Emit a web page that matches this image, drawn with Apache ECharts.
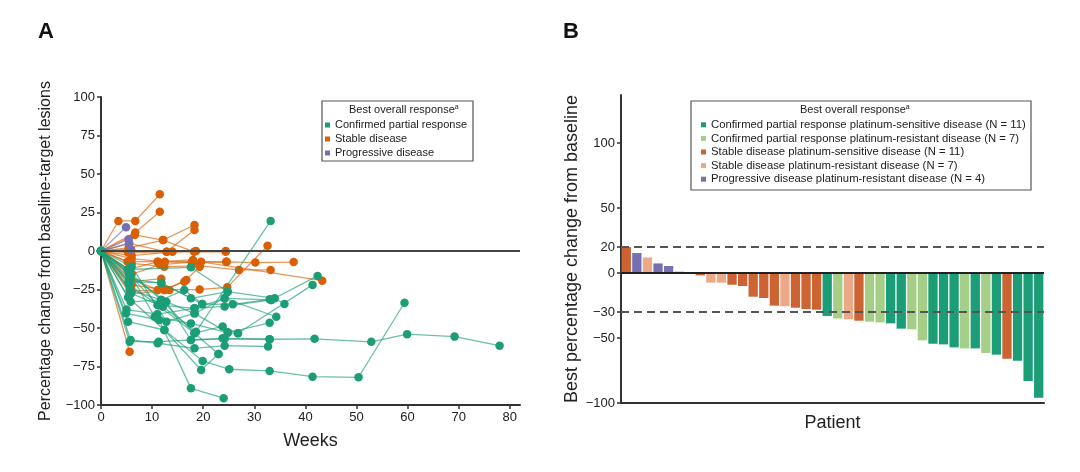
<!DOCTYPE html>
<html>
<head>
<meta charset="utf-8">
<script src="https://cdn.jsdelivr.net/npm/echarts@6/dist/echarts.min.js"></script>
<style>
html,body{margin:0;padding:0;background:#fff;}
#chart{width:1080px;height:472px;}
</style>
</head>
<body>
<div id="chart"></div>
<script>
// ---------- Panel A data: [week, % change] per patient ----------
const greenLines = [
  [[0,0],[5.6,-58.9],[11.3,-58.9],[17.6,-57.8],[24.2,-57],[33,-57.3],[41.8,-57],[52.9,-59],[59.9,-54],[69.2,-55.6],[78,-61.5]],
  [[0,0],[5.8,-57.8],[11.1,-59.9],[18.3,-63.2],[24.2,-61.5],[32.7,-62]],
  [[0,0],[5.3,-45.9],[12.4,-51.3],[19.9,-71.4],[25.1,-76.8],[33,-77.9],[41.4,-81.6],[50.4,-82],[59.4,-33.6]],
  [[0,0],[4.9,-40.5],[11.4,-44.8],[17.6,-89.2],[24,-95.6]],
  [[0,0],[5.6,-25.3],[11.8,-31.8],[18.3,-53.4],[23,-66.9]],
  [[0,0],[5.9,-27.5],[12.1,-36.2],[18.6,-52.4],[33.2,19.5]],
  [[0,0],[5.2,-12],[10.5,-42.7],[17.6,-47],[24.8,-53],[26.8,-53.4],[41.4,-22]],
  [[0,0],[5.5,-15],[11.1,-35],[18.3,-37.2],[24.2,-36],[33.3,-31.8],[42.4,-16.2]],
  [[0,0],[5.5,-18],[11.8,-21],[17.6,-30.7],[24.8,-26.4],[34,-30.7],[35.9,-34.4]],
  [[0,0],[5.4,-20],[11.8,-20.6],[19.8,-34.4],[25.8,-34.6],[33,-31.4]],
  [[0,0],[6,-10],[12.8,-45.9],[18.3,-40.5],[24.2,-30.7],[34.3,-42.7]],
  [[0,0],[5.6,-14],[11.8,-31.8],[18.3,-40.5],[24.8,-53],[33,-46.6]],
  [[0,0],[5.4,-12],[17.6,-10.6],[24.8,-26.4]],
  [[0,0],[5.8,-16],[12.8,-33],[17.6,-57.8],[23.8,-56.7],[33,-57.3]],
  [[0,0],[5.5,-22],[11.1,-35],[18.3,-53.4],[23.8,-49],[26.8,-53.4]],
  [[0,0],[5.3,-30],[12.4,-51.3],[19.6,-77.3],[23,-66.9]],
  [[0,0],[5.8,-33],[11.8,-31.8],[16.3,-25.3],[19.8,-34.4]],
  [[0,0],[5,-38],[11,-41],[18.3,-37.2],[24.2,-30.7],[33.3,-31.8]]
];
const orangeLines = [
  [[0,0],[3.4,19.5],[6.7,19.5],[11.5,36.8]],
  [[0,0],[6.7,12],[11.5,25.5]],
  [[0,0],[6.6,10.4],[12.1,7.1],[18.3,16.9]],
  [[0,0],[5.5,5],[12.8,-0.5],[18.3,13.6]],
  [[0,0],[6,-3],[14,-0.5],[18.6,0],[24.4,0]],
  [[0,0],[5.2,-6.9],[11.1,-6.9],[17.8,-7.2],[24.6,-7],[30.2,-7.5],[37.7,-7.2]],
  [[0,0],[6,-8],[12.4,-10.2],[19.3,-9.7],[27,-12.3],[33.2,-12.3]],
  [[0,0],[5.8,-18],[11.1,-25.3],[19.3,-25],[24.7,-23.6],[32.6,3.4]],
  [[0,0],[6,-26],[12.4,-25.3],[16.3,-19.9],[19.3,-10.2]],
  [[0,0],[5.6,-65.4]],
  [[0,0],[6,-5],[12.5,-7],[19.6,-7],[43.3,-19.3]],
  [[0,0],[5.4,2],[12.2,7.1],[18.2,-0.5]],
  [[0,0],[5.5,-12],[11.1,-6.9],[18,-5.8]],
  [[0,0],[6,-22],[12.4,-25.3],[16.7,-18.8]],
  [[0,0],[5.7,-28],[13.4,-25.3]],
  [[0,0],[5.3,-1],[12.9,-0.5],[24.4,-0.5]],
  [[0,0],[6,-15],[11.5,-9],[18,-7],[24.5,-7]],
  [[0,0],[5.6,-20],[11.8,-18]]
];
const purpleLines = [
  [[0,0],[4.9,15.4]],
  [[0,0],[5.4,7.6]],
  [[0,0],[5.5,5]],
  [[0,0],[5.9,1]]
];
const weekTicks = [0,10,20,30,40,50,60,70,80];

// ---------- Panel B data ----------
const bValues = [20,15.4,12,7.4,5.4,1,0,-1.8,-7.4,-7.4,-9,-10,-18.2,-19.2,-25.1,-25.6,-26.7,-27.7,-28.2,
  -33,-35,-35.6,-36.7,-37.4,-38,-38.7,-42.8,-43.3,-51.8,-54.4,-54.9,-57.2,-58,-58,-61.5,-62.8,-65.9,-67.4,-83,-95.9];
const bGroups = ['SDS','PD','SDR','PD','PD','PD','SDS','SDS','SDR','SDR','SDS','SDS','SDS','SDS','SDS','SDR','SDS','SDS','SDS',
  'PRS','PRR','SDR','SDS','PRR','PRR','PRS','PRS','PRR','PRR','PRS','PRS','PRS','PRR','PRS','PRR','PRS','SDS','PRS','PRS','PRS'];
const bGroupKeys = ['PRS','PRR','SDS','SDR','PD'];
const bGroupNames = [
  'Confirmed partial response platinum-sensitive disease (N = 11)',
  'Confirmed partial response platinum-resistant disease (N = 7)',
  'Stable disease platinum-sensitive disease (N = 11)',
  'Stable disease platinum-resistant disease (N = 7)',
  'Progressive disease platinum-resistant disease (N = 4)'
];
const bTicks = [-100,-50,-30,0,20,50,100];
const refLines = [20,-30];

// ---------- styling ----------
const FONT = '"Liberation Sans", Arial, Helvetica, sans-serif';
const GREEN = '#1b9e77', ORANGE = '#d95f02', PURPLE = '#7570b3';
const barColors = {PRS:'#1b9e77', PRR:'#a5cf86', SDS:'#cd6332', SDR:'#eba987', PD:'#7570b3'};
const aNames = ['Confirmed partial response','Stable disease','Progressive disease'];
const minus = v => String(v).replace('-', '\u2212');

function spider(lines, name, color, z) {
  return lines.map(pts => ({
    type:'line', name, xAxisIndex:0, yAxisIndex:0, data:pts,
    symbol:'circle', symbolSize:8.5, showSymbol:true, z,
    itemStyle:{color}, lineStyle:{color, width:1.3, opacity:0.65},
    emphasis:{disabled:true}, silent:true, animation:false
  }));
}

const series = [];
series.push({
  type:'line', xAxisIndex:0, yAxisIndex:0, data:[[0,0]], symbol:'none', z:1, silent:true,
  markLine:{silent:true, symbol:'none', label:{show:false}, animation:false,
    lineStyle:{color:'#444', width:2, type:'solid'}, data:[{yAxis:0}]}
});
series.push(...spider(orangeLines, aNames[1], ORANGE, 2));
series.push(...spider(purpleLines, aNames[2], PURPLE, 3));
series.push(...spider(greenLines, aNames[0], GREEN, 4));

bGroupKeys.forEach((k, gi) => {
  series.push({
    type:'bar', name:bGroupNames[gi], xAxisIndex:1, yAxisIndex:1,
    data:bValues.map((v,i) => bGroups[i] === k ? v : '-'),
    itemStyle:{color:barColors[k]}, barGap:'-100%', barCategoryGap:'12%',
    silent:true, animation:false, z:2
  });
});
series.push({
  type:'line', xAxisIndex:1, yAxisIndex:1, data:bValues.map(() => '-'), symbol:'none', z:6, silent:true,
  markLine:{silent:true, symbol:'none', label:{show:false}, animation:false,
    data:[
      {yAxis:0, lineStyle:{color:'#222', width:2, type:'solid'}},
      ...refLines.map(v => ({yAxis:v, lineStyle:{color:'#555', width:2, type:[8,5]}}))
    ]}
});

const titleRich = {
  m:{fontSize:11, fontFamily:FONT, fill:'#222', color:'#222'},
  s:{fontSize:7, fontFamily:FONT, fill:'#222', color:'#222', verticalAlign:'top'}
};

const option = {
  animation:false,
  textStyle:{fontFamily:FONT},
  grid:[
    {left:101, top:97, width:419, height:308},
    {left:621, top:95, width:423, height:308}
  ],
  xAxis:[
    {type:'value', gridIndex:0, min:0, max:82, interval:10,
     name:'Weeks', nameLocation:'middle', nameGap:27,
     nameTextStyle:{fontSize:18, color:'#222', fontFamily:FONT},
     axisLine:{show:true, onZero:false, lineStyle:{color:'#333', width:2}},
     axisTick:{show:true, length:4, customValues:weekTicks, lineStyle:{color:'#333', width:1.5}},
     axisLabel:{customValues:weekTicks, fontSize:13, color:'#222', margin:6, fontFamily:FONT},
     splitLine:{show:false}},
    {type:'category', gridIndex:1, data:bValues.map((v,i) => String(i+1)),
     name:'Patient', nameLocation:'middle', nameGap:11,
     nameTextStyle:{fontSize:18, color:'#222', fontFamily:FONT},
     axisLine:{show:true, onZero:false, lineStyle:{color:'#333', width:2}},
     axisTick:{show:false}, axisLabel:{show:false}, splitLine:{show:false}}
  ],
  yAxis:[
    {type:'value', gridIndex:0, min:-100, max:100, interval:25,
     name:'Percentage change from baseline-target lesions', nameLocation:'middle', nameGap:47,
     nameTextStyle:{fontSize:16, color:'#222', fontFamily:FONT},
     axisLine:{show:true, onZero:false, lineStyle:{color:'#333', width:2}},
     axisTick:{show:true, length:4, lineStyle:{color:'#333', width:1.5}},
     axisLabel:{fontSize:13, color:'#222', margin:6, formatter:minus, fontFamily:FONT},
     splitLine:{show:false}},
    {type:'value', gridIndex:1, min:-100, max:137,
     name:'Best percentage change from baseline', nameLocation:'middle', nameGap:40,
     nameTextStyle:{fontSize:18, color:'#222', fontFamily:FONT},
     axisLine:{show:true, onZero:false, lineStyle:{color:'#333', width:2}},
     axisTick:{show:true, length:4, customValues:bTicks, lineStyle:{color:'#333', width:1.5}},
     axisLabel:{customValues:bTicks, fontSize:13, color:'#222', margin:6, formatter:minus, fontFamily:FONT},
     splitLine:{show:false}}
  ],
  legend:[
    {data:aNames, orient:'vertical', left:325, top:118, padding:0, itemGap:0,
     itemWidth:5, itemHeight:5, icon:'rect', selectedMode:false,
     textStyle:{fontSize:11, lineHeight:14, color:'#222', fontFamily:FONT}},
    {data:bGroupNames, orient:'vertical', left:701, top:118, padding:0, itemGap:0,
     itemWidth:5, itemHeight:5, icon:'rect', selectedMode:false,
     textStyle:{fontSize:11.3, lineHeight:13.6, color:'#222', fontFamily:FONT}}
  ],
  graphic:[
    {type:'text', left:38, top:21, style:{text:'A', font:'bold 22px ' + FONT, fill:'#111'}},
    {type:'text', left:563, top:21, style:{text:'B', font:'bold 22px ' + FONT, fill:'#111'}},
    {type:'rect', shape:{x:322, y:101, width:151, height:60}, style:{fill:'none', stroke:'#555', lineWidth:1.2}, z:10},
    {type:'text', x:349, y:104, z:11, style:{text:'{m|Best overall response}{s|a}', rich:titleRich}},
    {type:'rect', shape:{x:691, y:101, width:340, height:89}, style:{fill:'none', stroke:'#555', lineWidth:1.2}, z:10},
    {type:'text', x:800, y:104, z:11, style:{text:'{m|Best overall response}{s|a}', rich:titleRich}}
  ],
  series
};

const chart = echarts.init(document.getElementById('chart'), null, {renderer:'canvas'});
chart.setOption(option);
</script>
</body>
</html>
